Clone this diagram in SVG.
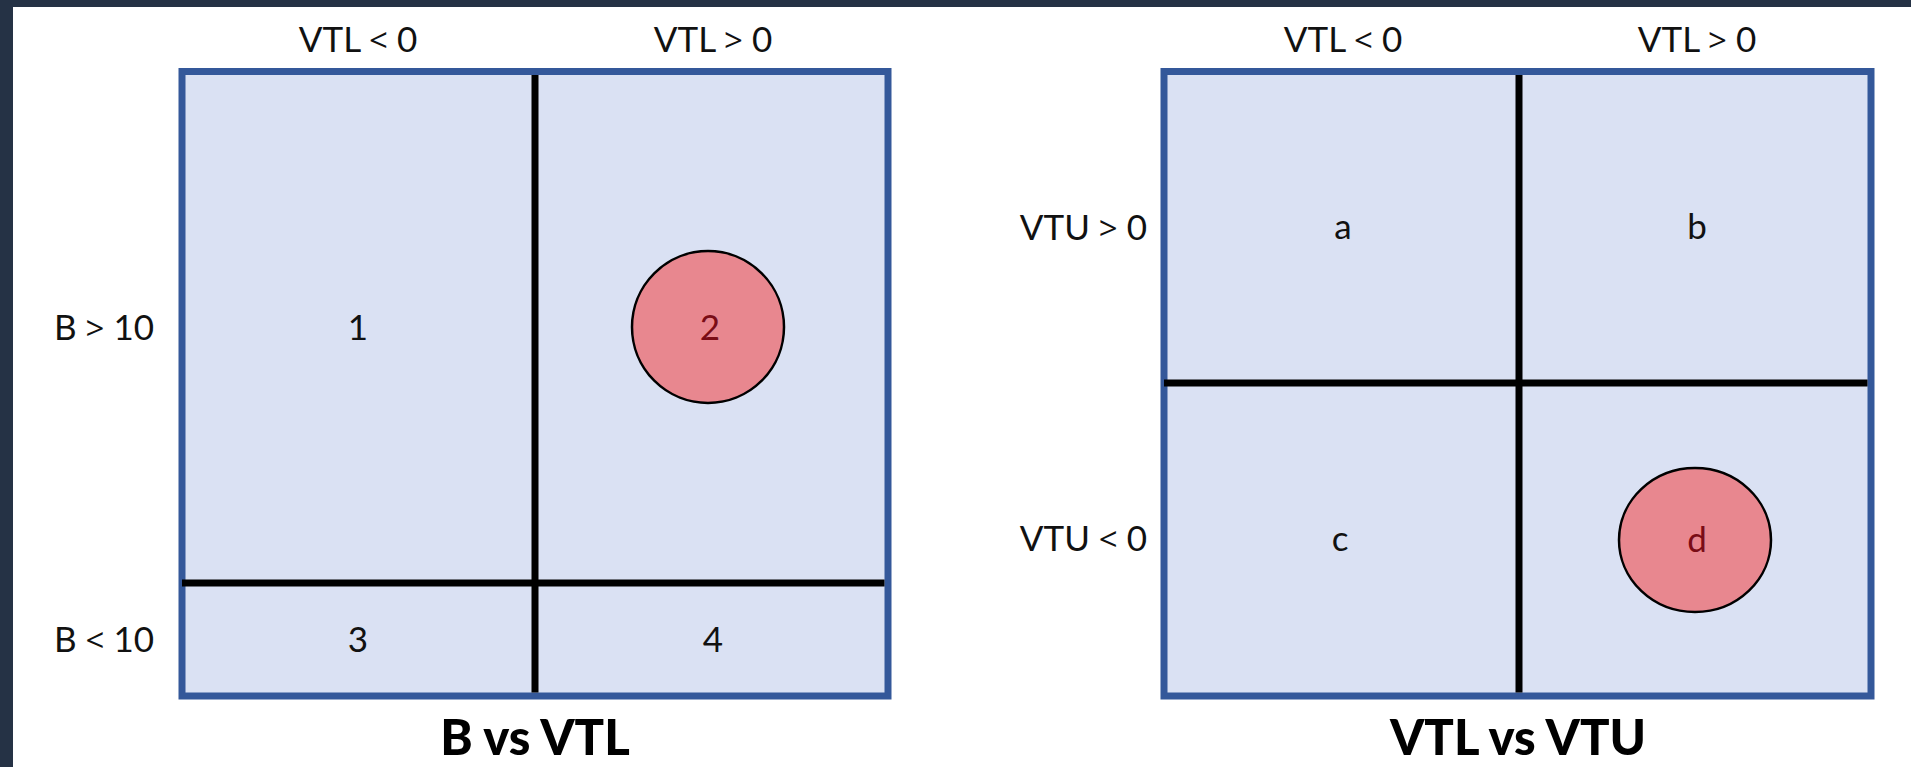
<svg xmlns="http://www.w3.org/2000/svg" width="1911" height="767" viewBox="0 0 1911 767">
  <style>
    .panel { fill: #dae1f3; stroke: #34589a; stroke-width: 7; }
    .divider { stroke: #000000; stroke-width: 7; fill: none; }
    .mark { fill: #e8878f; stroke: #000000; stroke-width: 2.5; }
    .lbl { font-family: Lato, "Liberation Sans", sans-serif; font-size: 35px; fill: #111111; }
    .op { font-family: "Open Sans", "Liberation Sans", sans-serif; font-size: 33px; }
    .mlbl { font-family: Lato, "Liberation Sans", sans-serif; font-size: 35px; fill: #7a0c16; }
    .title { font-family: Lato, "Liberation Sans", sans-serif; font-size: 49px; font-weight: 900; fill: #000000; }
    .mid { text-anchor: middle; }
    .end { text-anchor: end; }
  </style>

  <!-- page -->
  <rect x="0" y="0" width="1911" height="767" fill="#ffffff"/>
  <rect x="0" y="0" width="1911" height="7" fill="#253245"/>
  <rect x="0" y="0" width="13" height="767" fill="#253245"/>

  <!-- left chart: B vs VTL -->
  <g id="chart-b-vtl">
    <rect class="panel" x="182" y="71.5" width="706" height="624.5"/>
    <g id="b-vtl-dividers">
      <line class="divider" x1="535" y1="75" x2="535" y2="692.5"/>
      <line class="divider" x1="182" y1="583" x2="884.5" y2="583"/>
    </g>
    <text class="lbl mid" x="358" y="52">VTL <tspan class="op">&lt;</tspan> 0</text>
    <text class="lbl mid" x="713" y="52">VTL <tspan class="op">&gt;</tspan> 0</text>
    <text class="lbl end" x="154" y="340">B <tspan class="op">&gt;</tspan> 10</text>
    <text class="lbl end" x="154" y="652">B <tspan class="op">&lt;</tspan> 10</text>
    <g id="cell-1"><text class="lbl mid" x="358" y="340">1</text></g>
    <g id="cell-2">
      <circle class="mark" cx="708" cy="327" r="76"/>
      <text class="mlbl mid" x="710" y="340">2</text>
    </g>
    <g id="cell-3"><text class="lbl mid" x="358" y="652">3</text></g>
    <g id="cell-4"><text class="lbl mid" x="713" y="652">4</text></g>
    <text class="title mid" x="535" y="755">B vs VTL</text>
  </g>

  <!-- right chart: VTL vs VTU -->
  <g id="chart-vtl-vtu">
    <rect class="panel" x="1164" y="71.5" width="707" height="624.5"/>
    <g id="vtl-vtu-dividers">
      <line class="divider" x1="1519" y1="75" x2="1519" y2="692.5"/>
      <line class="divider" x1="1164" y1="383" x2="1867.5" y2="383"/>
    </g>
    <text class="lbl mid" x="1343" y="52">VTL <tspan class="op">&lt;</tspan> 0</text>
    <text class="lbl mid" x="1697" y="52">VTL <tspan class="op">&gt;</tspan> 0</text>
    <text class="lbl end" x="1147" y="240">VTU <tspan class="op">&gt;</tspan> 0</text>
    <text class="lbl end" x="1147" y="551">VTU <tspan class="op">&lt;</tspan> 0</text>
    <g id="cell-a"><text class="lbl mid" x="1343" y="239">a</text></g>
    <g id="cell-b"><text class="lbl mid" x="1697" y="239">b</text></g>
    <g id="cell-c"><text class="lbl mid" x="1340" y="551">c</text></g>
    <g id="cell-d">
      <ellipse class="mark" cx="1695" cy="540" rx="76" ry="72"/>
      <text class="mlbl mid" x="1697" y="552">d</text>
    </g>
    <text class="title mid" x="1518" y="755">VTL vs VTU</text>
  </g>
</svg>
